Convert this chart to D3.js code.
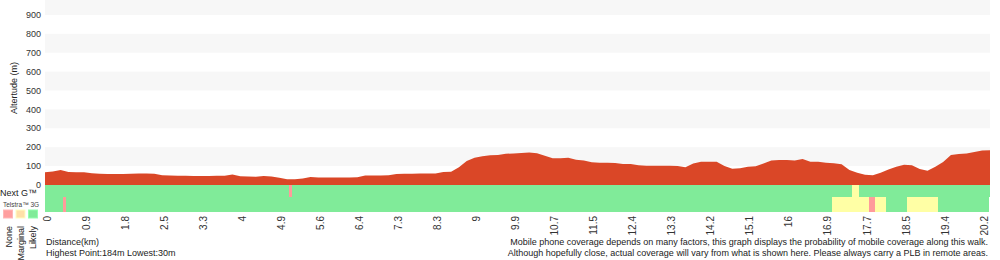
<!DOCTYPE html>
<meta charset="utf-8">
<script src="https://d3js.org/d3.v7.min.js"></script>
<style>
    body { margin: 0; background: #fff; }
    text { font-family: "Liberation Sans", Arial, sans-serif; fill: #222; }
</style>
<svg id="chart" width="1000" height="260"></svg>
<script>
    // distance labels (km) shown every 5 samples
    const distLabels = ["0", "0.9", "1.8", "2.5", "3.3", "4", "4.9", "5.6", "6.4", "7.3", "8.3", "9",
        "9.9", "10.7", "11.5", "12.4", "13.3", "14.2", "15.1", "16", "16.9", "17.7", "18.5", "19.4", "20.2"];

    // altitude (m) at each sample
    const elevation = [67, 72, 79, 69, 67, 67, 62, 59, 58, 58, 58, 59, 61, 61, 60, 52, 50, 49, 49, 48,
        48, 48, 49, 49, 56, 46, 45, 44, 47, 45, 38, 31, 30, 34, 42, 40, 40, 40, 40, 40,
        41, 50, 50, 50, 51, 58, 60, 60, 61, 61, 61, 69, 70, 94, 127, 144, 152, 157, 159, 165,
        167, 169, 172, 168, 155, 142, 142, 144, 134, 129, 120, 118, 118, 116, 111, 111, 104, 102, 102, 102,
        102, 101, 94, 114, 123, 123, 123, 100, 86, 89, 97, 99, 114, 129, 132, 132, 129, 138, 123, 123,
        118, 115, 110, 79, 65, 54, 51, 65, 82, 97, 107, 104, 85, 75, 96, 122, 159, 164, 167, 175,
        182, 184];

    const yTicks = [0, 100, 200, 300, 400, 500, 600, 700, 800, 900];
    const stripeStarts = [100, 300, 500, 700, 900];

    // coverage segments [from sample, to sample, level]
    const nextG = [[0, 31.24, "likely"], [31.24, 31.63, "none"], [31.63, 103.3, "likely"],
        [103.3, 104.2, "marginal"], [104.2, 121, "likely"]];
    const telstra3G = [[0, 2.3, "likely"], [2.3, 2.69, "none"], [2.69, 100.8, "likely"],
        [100.8, 105.5, "marginal"], [105.5, 106.3, "none"], [106.3, 107.7, "marginal"],
        [107.7, 110.4, "likely"], [110.4, 114.3, "marginal"], [114.3, 120.85, "likely"]];

    const levels = ["none", "marginal", "likely"];
    const levelNames = ["None", "Marginal", "Likely"];

    const coverColor = { none: "#ff9b9b", marginal: "#ffffa5", likely: "#80eb99" };
    const legendColor = { none: "#ff9f9f", marginal: "#ffe0a8", likely: "#80eb99" };

    const svg = d3.select("#chart");
    const left = 45, right = 990;

    const x = d3.scaleLinear().domain([0, elevation.length - 1]).range([left, right]);
    const y = d3.scaleLinear().domain([0, 1000]).range([185, -4]);

    // striped background
    svg.selectAll(".stripe")
        .data(stripeStarts)
        .enter().append("rect")
        .attr("class", "stripe")
        .attr("x", left)
        .attr("width", right - left)
        .attr("y", d => Math.max(0, y(d + 100)))
        .attr("height", d => y(d) - Math.max(0, y(d + 100)))
        .attr("fill", "#f7f7f7");

    // altitude area
    svg.append("path")
        .datum(elevation)
        .attr("d", d3.area()
            .x((d, i) => x(i))
            .y0(y(0))
            .y1(d => y(d)))
        .attr("fill", "#da4727");

    // coverage bands
    function band(data, y0, y1) {
        svg.append("g").selectAll("rect")
            .data(data)
            .enter().append("rect")
            .attr("x", d => x(d[0]))
            .attr("width", d => x(d[1]) - x(d[0]))
            .attr("y", y0)
            .attr("height", y1 - y0)
            .attr("fill", d => coverColor[d[2]])
            .attr("shape-rendering", "crispEdges");
    }
    band(nextG, 185, 197);
    band(telstra3G, 197, 212);

    // y axis labels
    svg.append("g").selectAll("text")
        .data(yTicks)
        .enter().append("text")
        .attr("x", 41)
        .attr("y", d => y(d))
        .attr("dy", "0.35em")
        .attr("text-anchor", "end")
        .style("font-size", "9px")
        .style("fill", "#333")
        .text(d => d);

    svg.append("text")
        .attr("transform", "translate(17,88) rotate(-90)")
        .attr("text-anchor", "middle")
        .style("font-size", "9px")
        .text("Altertude (m)");

    // x axis labels
    svg.append("g").selectAll("text")
        .data(distLabels)
        .enter().append("text")
        .attr("transform", (d, i) => `translate(${x(i * 5) + 2},216) rotate(-90)`)
        .attr("dy", "0.35em")
        .attr("text-anchor", "end")
        .style("font-size", "10px")
        .style("fill", "#333")
        .text(d => d);

    // legend
    svg.append("text").attr("x", 0).attr("y", 196)
        .style("font-size", "9px").text("Next G™");
    svg.append("text").attr("x", 3).attr("y", 207)
        .style("font-size", "6.5px").style("fill", "#444").text("Telstra™ 3G");

    levels.forEach((lv, i) => {
        svg.append("rect")
            .attr("x", 3.5 + i * 12.5)
            .attr("y", 210)
            .attr("width", 9)
            .attr("height", 8)
            .attr("fill", legendColor[lv])
            .attr("stroke", d3.color(legendColor[lv]).brighter(0.4))
            .attr("stroke-width", 1);
        svg.append("text")
            .attr("transform", `translate(${12 + i * 12},226) rotate(-90)`)
            .attr("text-anchor", "end")
            .style("font-size", "9px")
            .text(levelNames[i]);
    });

    // footer
    svg.append("text").attr("x", 46).attr("y", 245)
        .style("font-size", "9px").text("Distance(km)");
    svg.append("text").attr("x", 46).attr("y", 256)
        .style("font-size", "9px").text("Highest Point:184m Lowest:30m");

    svg.append("text").attr("x", 988).attr("y", 245)
        .attr("text-anchor", "end")
        .style("font-size", "9px")
        .text("Mobile phone coverage depends on many factors, this graph displays the probability of mobile coverage along this walk.");
    svg.append("text").attr("x", 988).attr("y", 256)
        .attr("text-anchor", "end")
        .style("font-size", "9px")
        .text("Although hopefully close, actual coverage will vary from what is shown here. Please always carry a PLB in remote areas.");
</script>
